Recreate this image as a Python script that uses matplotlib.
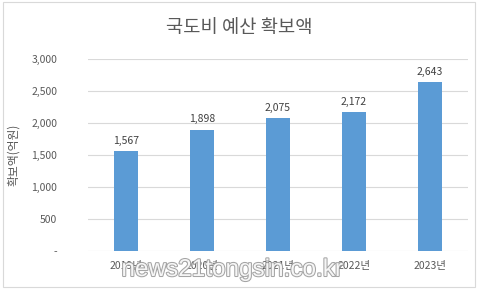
import matplotlib
matplotlib.use("Agg")
import matplotlib.pyplot as plt
import matplotlib.patheffects as pe
from matplotlib.ticker import FuncFormatter

plt.rcParams['font.family'] = ['Noto Sans CJK KR', 'DejaVu Sans']

years = ['2019년', '2020년', '2021년', '2022년', '2023년']
amounts = [1567, 1898, 2075, 2172, 2643]
yticks = [0, 500, 1000, 1500, 2000, 2500, 3000]

gray = '#595959'
fig = plt.figure(figsize=(4.8, 2.89), dpi=100)
ax = fig.add_axes([88 / 480, 1 - 251 / 289, 380 / 480, 192 / 289])

x = range(len(years))
bars = ax.bar(x, amounts, width=0.31, color='#5B9BD5', zorder=3)
for b, v in zip(bars, amounts):
    ax.text(b.get_x() + b.get_width() / 2, v + 80, f'{v:,}', ha='center', va='bottom',
            fontsize=7.5, color='#404040')

ax.set_xlim(-0.5, len(years) - 0.5)
ax.set_ylim(0, 3000)
ax.set_yticks(yticks)
ax.yaxis.set_major_formatter(FuncFormatter(lambda v, p: '-' if v == 0 else f'{int(v):,}'))
ax.set_xticks(list(x))
ax.set_xticklabels(years)
ax.tick_params(axis='both', length=0, labelsize=7.5, colors=gray)
ax.tick_params(axis='y', pad=22)
ax.tick_params(axis='x', pad=7)
ax.grid(axis='y', color='#D9D9D9', linewidth=0.8, zorder=0)
for s in ax.spines.values():
    s.set_visible(False)
ax.set_ylabel('확보액(억원)', fontsize=8.5, color=gray, labelpad=8)

fig.text(239 / 480, 1 - 28 / 289, '국도비 예산 확보액', ha='center', va='center',
         fontsize=13.5, color=gray)

# border of the chart area
fig.add_artist(plt.Rectangle((3 / 480, 2 / 289), 472 / 480, 285 / 289, fill=False,
                             edgecolor='#D9D9D9', linewidth=0.8, transform=fig.transFigure))

# watermark
fig.text(232 / 480, 1 - 270 / 289, 'news21tongsin.co.kr', ha='center', va='center',
         fontsize=17.5, color='white', family='Liberation Sans', alpha=0.9,
         path_effects=[pe.withStroke(linewidth=1.5, foreground='#9a9a9a')])

fig.savefig('out.png', dpi=100)
